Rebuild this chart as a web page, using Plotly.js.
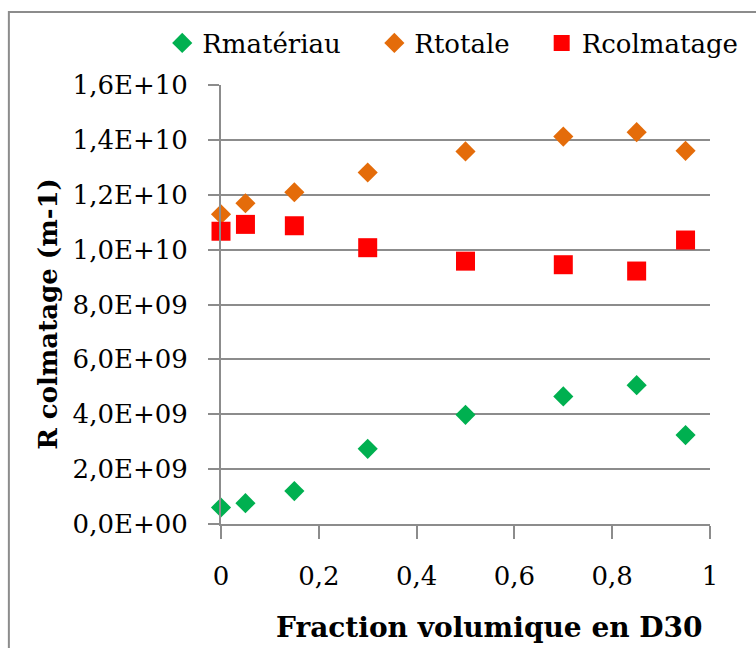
<!DOCTYPE html>
<html>
<head>
<meta charset="utf-8">
<script src="https://cdn.plot.ly/plotly-3.0.1.min.js"></script>
<style>html,body{margin:0;padding:0;background:#fff}</style>
</head>
<body>
<div id="chart" style="width:756px;height:648px;"></div>
<script>
// Data
const fraction = [0, 0.05, 0.15, 0.3, 0.5, 0.7, 0.85, 0.95];
const rMateriau = [0.60e9, 0.76e9, 1.20e9, 2.74e9, 3.98e9, 4.65e9, 5.06e9, 3.24e9];
const rTotale = [11.29e9, 11.69e9, 12.09e9, 12.81e9, 13.58e9, 14.12e9, 14.28e9, 13.60e9];
const rColmatage = [10.67e9, 10.92e9, 10.87e9, 10.07e9, 9.58e9, 9.45e9, 9.22e9, 10.35e9];

const seriesNames = ["Rmatériau", "Rtotale", "Rcolmatage"];
const yTickVals = [0, 2e9, 4e9, 6e9, 8e9, 10e9, 12e9, 14e9, 16e9];
const yTickText = ["0,0E+00", "2,0E+09", "4,0E+09", "6,0E+09", "8,0E+09", "1,0E+10", "1,2E+10", "1,4E+10", "1,6E+10"];
const xTickVals = [0, 0.2, 0.4, 0.6, 0.8, 1];
const xTickText = ["0", "0,2", "0,4", "0,6", "0,8", "1"];
const xTitle = "Fraction volumique en D30";
const yTitle = "R colmatage (m-1)";

const FONT = "DejaVu Serif";
const GRID = "#8c8c8c";

const traces = [
  {x: fraction, y: rMateriau, name: seriesNames[0], type: "scatter", mode: "markers", cliponaxis: false,
   marker: {symbol: "diamond", size: 15.5, color: "#00B050"}, legend: "legend"},
  {x: fraction, y: rTotale, name: seriesNames[1], type: "scatter", mode: "markers", cliponaxis: false,
   marker: {symbol: "diamond", size: 15.5, color: "#E46C0A"}, legend: "legend2"},
  {x: fraction, y: rColmatage, name: seriesNames[2], type: "scatter", mode: "markers", cliponaxis: false,
   marker: {symbol: "square", size: 19, color: "#FF0000"}, legend: "legend3"}
];

const legendBase = {orientation: "h", yanchor: "middle", y: 1.0957, xanchor: "left",
  bgcolor: "rgba(0,0,0,0)", font: {family: FONT, size: 26, color: "#000"}, itemsizing: "trace"};

const layout = {
  width: 756, height: 648,
  margin: {l: 221, r: 44, t: 85, b: 124},
  paper_bgcolor: "#fff", plot_bgcolor: "#fff",
  font: {family: FONT, color: "#000"},
  xaxis: {
    range: [0, 1], tickvals: xTickVals, ticktext: xTickText,
    showgrid: false, zeroline: false, showline: true, linecolor: GRID, linewidth: 2,
    ticks: "outside", ticklen: 13, tickwidth: 2, tickcolor: GRID,
    ticklabelstandoff: 15,
    tickfont: {family: FONT, size: 26, color: "#000"}
  },
  yaxis: {
    range: [0, 1.6e10], tickvals: yTickVals, ticktext: yTickText,
    showgrid: true, gridcolor: GRID, gridwidth: 2, zeroline: false,
    showline: true, linecolor: GRID, linewidth: 2,
    ticks: "outside", ticklen: 11, tickwidth: 2, tickcolor: GRID,
    ticklabelstandoff: 15,
    tickfont: {family: FONT, size: 26, color: "#000"}
  },
  showlegend: true,
  legend: Object.assign({}, legendBase, {x: -0.1202}),
  legend2: Object.assign({}, legendBase, {x: 0.3136}),
  legend3: Object.assign({}, legendBase, {x: 0.6558}),
  annotations: [
    {text: "<b>" + xTitle + "</b>", xref: "paper", yref: "paper", x: 0.55, y: -0.2369,
     xanchor: "center", yanchor: "middle", showarrow: false,
     font: {family: FONT, size: 28, color: "#000"}},
    {text: "<b>" + yTitle + "</b>", xref: "paper", yref: "paper", x: -0.3544, y: 0.478,
     xanchor: "center", yanchor: "middle", showarrow: false, textangle: -90,
     font: {family: FONT, size: 26, color: "#000"}}
  ],
  shapes: [
    {type: "rect", xref: "paper", yref: "paper", x0: -0.4338, x1: 1.1, y0: -0.3, y1: 1.1663,
     line: {color: GRID, width: 2}, fillcolor: "rgba(0,0,0,0)", layer: "below"}
  ]
};

Plotly.newPlot("chart", traces, layout, {displayModeBar: false, staticPlot: true});
</script>
</body>
</html>
